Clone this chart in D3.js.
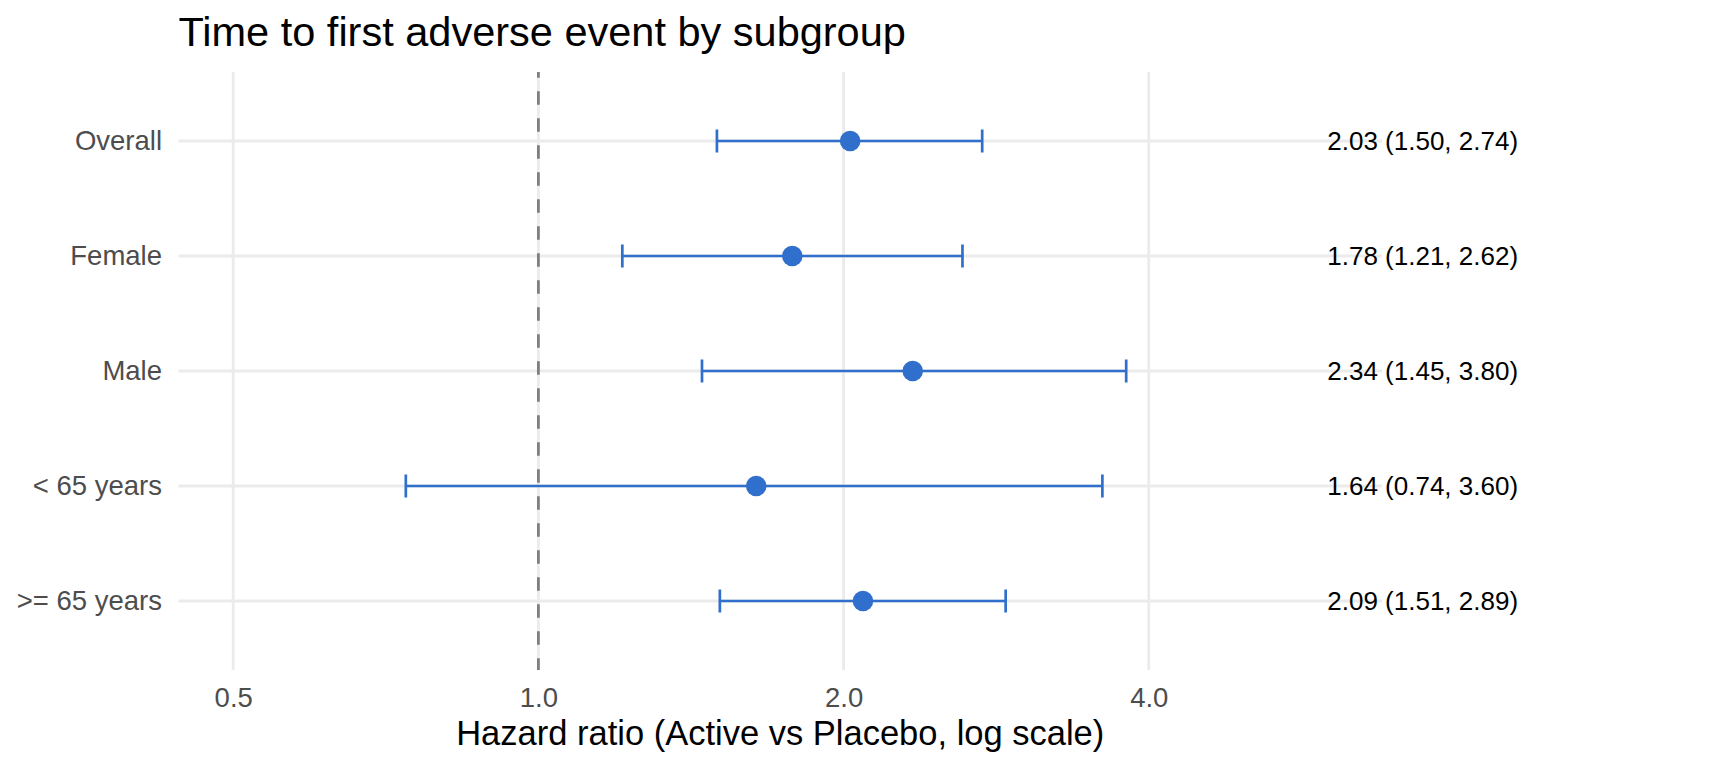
<!DOCTYPE html>
<html>
<head>
<meta charset="utf-8">
<script src="https://cdn.jsdelivr.net/npm/d3@7"></script>
<style>
    body { margin: 0; background: #fff; }
    svg { display: block; font-family: "Liberation Sans", Arial, Helvetica, sans-serif; }
</style>
</head>
<body>
<svg id="svg" width="1728" height="768"></svg>
<script>
// Forest plot data, one entry per subgroup
var subgroups = ['Overall', 'Female', 'Male', '< 65 years', '>= 65 years'];
var hazard = [2.03, 1.78, 2.34, 1.64, 2.09];
var lower = [1.50, 1.21, 1.45, 0.74, 1.51];
var upper = [2.74, 2.62, 3.80, 3.60, 2.89];
var x_breaks = [0.5, 1, 2, 4];
var x_limits = [0.5, 6];
var label_at = 6;

var TITLE = 'Time to first adverse event by subgroup';
var X_TITLE = 'Hazard ratio (Active vs Placebo, log scale)';
var BLUE = '#3070cc';

var svg = d3.select('svg'),
    panel = {left: 178.5, right: 1382, top: 72, bottom: 670};

// log scale with the usual 5% expansion on each side
var l0 = Math.log2(x_limits[0]), l1 = Math.log2(x_limits[1]);
var pad = (l1 - l0) * 0.05;
var x = d3.scaleLog().base(2)
    .domain([Math.pow(2, l0 - pad), Math.pow(2, l1 + pad)])
    .range([panel.left, panel.right]);

var y = d3.scalePoint()
    .domain(subgroups)
    .range([panel.top, panel.bottom])
    .padding(0.6);

var rows = subgroups.map(function(s, i) {
    return {name: s, hr: hazard[i], lo: lower[i], hi: upper[i]};
});

function fmt(v) { return v.toFixed(2); }

// grid
var grid = svg.append('g');
grid.selectAll('line.v')
    .data(x_breaks)
    .enter().append('line')
    .attr('x1', function(d) { return x(d); })
    .attr('x2', function(d) { return x(d); })
    .attr('y1', panel.top)
    .attr('y2', panel.bottom)
    .attr('stroke', '#ebebeb')
    .attr('stroke-width', 2.8);

grid.selectAll('line.h')
    .data(subgroups)
    .enter().append('line')
    .attr('x1', panel.left)
    .attr('x2', panel.right)
    .attr('y1', function(d) { return y(d); })
    .attr('y2', function(d) { return y(d); })
    .attr('stroke', '#ebebeb')
    .attr('stroke-width', 2.8);

// reference line at HR = 1
svg.append('line')
    .attr('x1', x(1))
    .attr('x2', x(1))
    .attr('y1', panel.top)
    .attr('y2', panel.bottom)
    .attr('stroke', '#7f7f7f')
    .attr('stroke-width', 2.8)
    .attr('stroke-dasharray', '13.5,13.5')
    .attr('stroke-dashoffset', 7.7);

// error bars
var cap = y.step() * 0.1;
var bars = svg.append('g')
    .attr('stroke', BLUE)
    .attr('stroke-width', 2.7)
    .attr('fill', 'none');

bars.selectAll('path')
    .data(rows)
    .enter().append('path')
    .attr('d', function(d) {
        var yy = y(d.name), a = x(d.lo), b = x(d.hi);
        return 'M' + a + ',' + (yy - cap) + 'V' + (yy + cap) +
            'M' + a + ',' + yy + 'H' + b +
            'M' + b + ',' + (yy - cap) + 'V' + (yy + cap);
    });

svg.append('g')
    .selectAll('circle')
    .data(rows)
    .enter().append('circle')
    .attr('cx', function(d) { return x(d.hr); })
    .attr('cy', function(d) { return y(d.name); })
    .attr('r', 10.3)
    .attr('fill', BLUE);

// estimate labels on the right
svg.append('g')
    .selectAll('text')
    .data(rows)
    .enter().append('text')
    .attr('x', x(label_at))
    .attr('y', function(d) { return y(d.name); })
    .attr('dy', '0.36em')
    .attr('font-size', 26)
    .attr('fill', '#000')
    .text(function(d) { return fmt(d.hr) + ' (' + fmt(d.lo) + ', ' + fmt(d.hi) + ')'; });

// y axis labels
var yAxis = d3.axisLeft(y).tickSize(0).tickPadding(16.5);
var gy = svg.append('g')
    .attr('transform', 'translate(' + panel.left + ',0)')
    .call(yAxis);
gy.select('.domain').remove();
gy.selectAll('text')
    .attr('font-size', 27.5)
    .attr('font-family', null)
    .attr('fill', '#4d4d4d');

// x axis labels
var xAxis = d3.axisBottom(x)
    .tickValues(x_breaks)
    .tickFormat(d3.format('.1f'))
    .tickSize(0)
    .tickPadding(0);
var gx = svg.append('g')
    .attr('transform', 'translate(0,' + panel.bottom + ')')
    .call(xAxis);
gx.select('.domain').remove();
gx.selectAll('text')
    .attr('font-size', 27.5)
    .attr('font-family', null)
    .attr('fill', '#4d4d4d')
    .attr('dy', null)
    .attr('y', 37.2);

// titles
svg.append('text')
    .attr('x', (panel.left + panel.right) / 2)
    .attr('y', 745)
    .attr('text-anchor', 'middle')
    .attr('font-size', 34.5)
    .attr('fill', '#000')
    .text(X_TITLE);

svg.append('text')
    .attr('x', panel.left)
    .attr('y', 46)
    .attr('font-size', 41.5)
    .attr('fill', '#000')
    .text(TITLE);
</script>
</body>
</html>
